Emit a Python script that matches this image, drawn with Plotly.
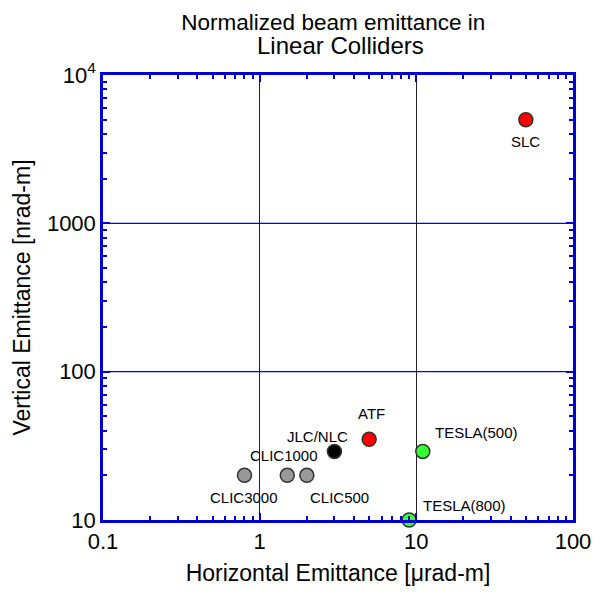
import math
import plotly.graph_objects as go

names = ["SLC", "ATF", "JLC/NLC", "TESLA(500)", "TESLA(800)", "CLIC3000", "CLIC1000", "CLIC500"]
x_emit = [50, 5, 3, 11, 9, 0.8, 1.5, 2]
y_emit = [5000, 35, 29, 29, 10, 20, 20, 20]
colors = ["#ff0000", "#ff0000", "#000000", "#33ff33", "#33ff33", "#999999", "#999999", "#999999"]

x_ticks = [0.1, 1, 10, 100]
x_ticktext = ["0.1", "1", "10", "100"]
y_ticks = [10, 100, 1000, 10000]
y_ticktext = ["10", "100", "1000", "10<sup>4</sup>"]
x_minor = [m * d for d in (0.1, 1, 10) for m in range(2, 10)]
y_minor = [m * d for d in (10, 100, 1000) for m in range(2, 10)]

title_line1 = "Normalized beam emittance in"
title_line2 = "Linear Colliders"

# label placement (pixel offsets from marker)
label_style = {
    "SLC": dict(xshift=0, yshift=-22, xanchor="center"),
    "ATF": dict(xshift=2, yshift=26, xanchor="center"),
    "JLC/NLC": dict(xshift=-17, yshift=15, xanchor="center"),
    "TESLA(500)": dict(xshift=10, yshift=19, xanchor="left"),
    "TESLA(800)": dict(xshift=12, yshift=15, xanchor="left"),
    "CLIC3000": dict(xshift=0, yshift=-22, xanchor="center"),
    "CLIC1000": dict(xshift=-3, yshift=20, xanchor="center"),
    "CLIC500": dict(xshift=33, yshift=-22, xanchor="center"),
}

FONT = "Liberation Sans, Arial, sans-serif"
BLUE = "#0000d0"

fig = go.Figure()
fig.add_trace(go.Scatter(
    x=x_emit, y=y_emit, mode="markers",
    marker=dict(size=14, color=colors, line=dict(color="#333333", width=1.5)),
    cliponaxis=False, showlegend=False, hoverinfo="text", text=names,
))

annotations = []
for n, xv, yv in zip(names, x_emit, y_emit):
    s = label_style[n]
    annotations.append(dict(
        x=math.log10(xv), y=math.log10(yv), xref="x", yref="y", text=n, showarrow=False,
        xshift=s["xshift"], yshift=s["yshift"], xanchor=s["xanchor"], yanchor="middle",
        font=dict(family=FONT, size=15, color="#000000"),
    ))
annotations.append(dict(
    x=0.506, y=1.0674, xref="paper", yref="paper", text=title_line2, showarrow=False,
    xanchor="center", yanchor="middle", font=dict(family=FONT, size=24, color="#000000"),
))

# horizontal blue grid lines at the inner major y ticks (shapes use data values on log axes)
shapes = [
    dict(type="line", xref="x domain", yref="y", x0=0, x1=1,
         y0=v, y1=v, layer="below",
         line=dict(color="#0000ff", width=1.2))
    for v in y_ticks[1:-1]
]

axis_common = dict(
    type="log", showline=True, linecolor=BLUE, linewidth=2.5, mirror="allticks",
    ticks="inside", ticklen=7, tickwidth=2, tickcolor=BLUE, automargin=False,
    zeroline=False, tickfont=dict(family=FONT, size=22, color="#000000"),
)

fig.update_layout(
    width=594, height=603,
    margin=dict(l=103, r=21, t=75, b=83, autoexpand=False),
    paper_bgcolor="white", plot_bgcolor="white",
    font=dict(family=FONT, color="#000000"),
    title=dict(text=title_line1, xref="paper", x=0.49, xanchor="center",
               yref="container", y=1 - 22 / 603, yanchor="middle",
               font=dict(family=FONT, size=22.5, color="#000000")),
    annotations=annotations,
    shapes=shapes,
)
fig.update_xaxes(
    **axis_common, range=[-1, 2], tickvals=x_ticks, ticktext=x_ticktext,
    minor=dict(tickvals=x_minor, ticks="inside", ticklen=4, tickwidth=1.5, tickcolor=BLUE, showgrid=False),
    showgrid=True, gridcolor="#222222", gridwidth=1,
    title=dict(text="Horizontal Emittance [\u03bcrad-m]", font=dict(family=FONT, size=23), standoff=12),
)
fig.update_yaxes(
    **axis_common, range=[1, 4], tickvals=y_ticks, ticktext=y_ticktext,
    minor=dict(tickvals=y_minor, ticks="inside", ticklen=4, tickwidth=1.5, tickcolor=BLUE, showgrid=False),
    showgrid=False,
    title=dict(text="Vertical Emittance [nrad-m]", font=dict(family=FONT, size=23), standoff=10),
)

fig.write_html("out.html")
